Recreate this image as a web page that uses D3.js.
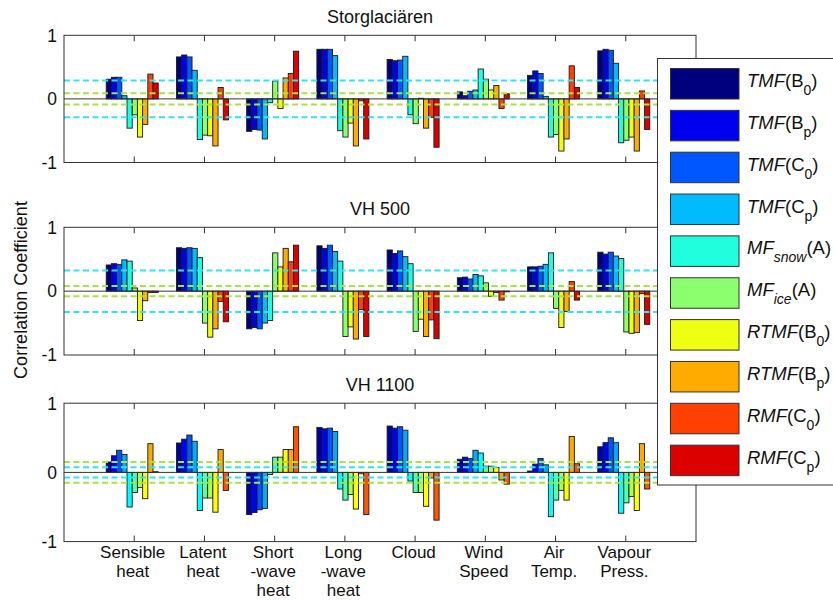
<!DOCTYPE html>
<html>
<head>
<meta charset="utf-8">
<script src="https://cdn.jsdelivr.net/npm/d3@7"></script>
<style>
  body { margin: 0; background: #fff; }
  svg text { font-family: "Liberation Sans", Arial, Helvetica, sans-serif; fill: #111; }
</style>
</head>
<body>
<svg></svg>
<script>
var width = 833;
var height = 601;

// categories along x (label lines as printed under the bottom panel)
var categories = ["Sensible heat", "Latent heat", "Short-wave heat", "Long-wave heat",
                  "Cloud", "Wind Speed", "Air Temp.", "Vapour Press."];
var categoryLines = [["Sensible", "heat"], ["Latent", "heat"], ["Short", "-wave", "heat"],
                     ["Long", "-wave", "heat"], ["Cloud"], ["Wind", "Speed"],
                     ["Air", "Temp."], ["Vapour", "Press."]];

// one row per category, 10 model series per row
var storglaciaren = [
  [0.31, 0.34, 0.34, 0.05, -0.46, -0.25, -0.60, -0.40, 0.39, 0.25],
  [0.66, 0.69, 0.66, 0.45, -0.64, -0.57, -0.58, -0.74, 0.18, -0.33],
  [-0.51, -0.48, -0.49, -0.63, -0.06, 0.28, -0.15, 0.33, 0.40, 0.75],
  [0.78, 0.78, 0.78, 0.68, -0.50, -0.60, -0.38, -0.74, -0.03, -0.63],
  [0.62, 0.60, 0.61, 0.67, -0.25, -0.39, 0.01, -0.46, -0.29, -0.76],
  [0.11, 0.05, 0.12, 0.14, 0.47, 0.31, 0.14, 0.21, -0.15, 0.08],
  [0.37, 0.44, 0.40, 0.04, -0.60, -0.56, -0.82, -0.63, 0.52, 0.18],
  [0.755, 0.78, 0.765, 0.56, -0.69, -0.65, -0.60, -0.82, 0.125, -0.48]
];
var vh500 = [
  [0.41, 0.43, 0.42, 0.49, 0.47, 0.05, -0.46, -0.15, -0.02, -0.02],
  [0.68, 0.67, 0.68, 0.67, 0.525, -0.50, -0.72, -0.59, -0.16, -0.48],
  [-0.59, -0.57, -0.59, -0.50, -0.46, 0.60, 0.38, 0.67, 0.46, 0.72],
  [0.71, 0.67, 0.72, 0.62, 0.47, -0.71, -0.56, -0.75, -0.29, -0.71],
  [0.645, 0.59, 0.63, 0.54, 0.43, -0.63, -0.44, -0.71, -0.45, -0.745],
  [0.21, 0.22, 0.19, 0.26, 0.24, 0.13, -0.08, -0.02, -0.14, -0.01],
  [0.38, 0.38, 0.39, 0.42, 0.60, -0.27, -0.57, -0.32, 0.15, -0.14],
  [0.61, 0.58, 0.61, 0.55, 0.51, -0.64, -0.66, -0.65, -0.04, -0.52]
];
var vh1100 = [
  [0.15, 0.24, 0.32, 0.26, -0.50, -0.29, -0.22, -0.38, 0.415, 0.01],
  [0.425, 0.48, 0.54, 0.45, -0.55, -0.37, -0.37, -0.575, 0.33, -0.26],
  [-0.61, -0.58, -0.54, -0.52, -0.03, 0.22, 0.22, 0.33, 0.33, 0.66],
  [0.65, 0.63, 0.64, 0.59, -0.24, -0.40, -0.32, -0.53, -0.02, -0.61],
  [0.67, 0.64, 0.66, 0.61, -0.125, -0.29, -0.29, -0.49, -0.08, -0.69],
  [0.19, 0.22, 0.20, 0.32, 0.28, 0.09, 0.09, 0.07, -0.11, -0.17],
  [0.02, 0.12, 0.20, 0.11, -0.64, -0.40, -0.26, -0.40, 0.52, 0.125],
  [0.37, 0.43, 0.50, 0.43, -0.59, -0.44, -0.35, -0.55, 0.415, -0.24]
];

var panelTitles = ["Storglaciären", "VH 500", "VH 1100"];
// significance levels (dashed lines), +/- around zero
var cyanLevels = [0.29, 0.325, 0.075];
var greenLevels = [0.09, 0.08, 0.15];
var yTicks = [-1, 0, 1];

// legend labels: italic name, optional italic subscript, argument, argument subscript
var seriesLabels = [
  { name: "TMF", arg: "B", argSub: "0" },
  { name: "TMF", arg: "B", argSub: "p" },
  { name: "TMF", arg: "C", argSub: "0" },
  { name: "TMF", arg: "C", argSub: "p" },
  { name: "MF", nameSub: "snow", arg: "A" },
  { name: "MF", nameSub: "ice", arg: "A" },
  { name: "RTMF", arg: "B", argSub: "0" },
  { name: "RTMF", arg: "B", argSub: "p" },
  { name: "RMF", arg: "C", argSub: "0" },
  { name: "RMF", arg: "C", argSub: "p" }
];

var legendColors = ["#00007f", "#0000ee", "#0057ff", "#00bcff", "#1fffdd",
                    "#8cff6e", "#eeff12", "#ffab00", "#ff4000", "#dd0000"];
// the bottom panel was drawn with plain jet(10)
var jetColors = ["#0000aa", "#0000ff", "#0055ff", "#00aaff", "#00ffff",
                 "#55ffaa", "#aaff55", "#ffff00", "#ffaa00", "#ff5500"];

var panels = [
  { title: panelTitles[0], data: storglaciaren, cyan: cyanLevels[0], green: greenLevels[0], top: 35.3, bottom: 162.5, colors: legendColors },
  { title: panelTitles[1], data: vh500, cyan: cyanLevels[1], green: greenLevels[1], top: 227.3, bottom: 355, colors: legendColors },
  { title: panelTitles[2], data: vh1100, cyan: cyanLevels[2], green: greenLevels[2], top: 403.2, bottom: 541.6, colors: jetColors }
];

var svg = d3.select("svg")
            .attr("width", width)
            .attr("height", height);

var x = d3.scaleLinear()
          .domain([0, categories.length + 1])
          .range([64, 696]);

var inner = d3.scaleBand()
              .domain(d3.range(seriesLabels.length))
              .range([-28, 24]);

panels.forEach(function (p, pi) {
  var y = d3.scaleLinear().domain([-1, 1]).range([p.bottom, p.top]);
  var g = svg.append("g");

  // bars
  var groups = g.selectAll("g.cat")
                .data(p.data)
                .enter()
                .append("g")
                  .attr("transform", (d, i) => "translate(" + x(i + 1) + ",0)");

  groups.selectAll("rect")
        .data(d => d)
        .enter()
        .append("rect")
          .attr("x", (d, j) => inner(j))
          .attr("width", inner.bandwidth())
          .attr("y", d => y(Math.max(0, d)))
          .attr("height", d => Math.abs(y(d) - y(0)))
          .attr("fill", (d, j) => p.colors[j])
          .attr("stroke", "#1a1a1a")
          .attr("stroke-width", 0.9);

  // zero line
  g.append("line")
    .attr("x1", x.range()[0]).attr("x2", x.range()[1])
    .attr("y1", y(0)).attr("y2", y(0))
    .attr("stroke", "#333").attr("stroke-width", 1);

  // dashed significance lines
  [[p.cyan, "#30e4f2"], [p.green, "#a6e443"]].forEach(function (lv) {
    [lv[0], -lv[0]].forEach(function (v) {
      g.append("line")
        .attr("x1", x.range()[0]).attr("x2", x.range()[1])
        .attr("y1", y(v)).attr("y2", y(v))
        .attr("stroke", lv[1]).attr("stroke-width", 2)
        .attr("stroke-dasharray", "6,3.5");
    });
  });

  // box
  g.append("rect")
    .attr("x", x.range()[0]).attr("y", p.top)
    .attr("width", x.range()[1] - x.range()[0]).attr("height", p.bottom - p.top)
    .attr("fill", "none").attr("stroke", "#333").attr("stroke-width", 1);

  // inward ticks top and bottom
  var ticks = d3.range(1, categories.length + 1);
  g.selectAll("line.tt").data(ticks).enter().append("line")
    .attr("x1", d => x(d)).attr("x2", d => x(d))
    .attr("y1", p.top).attr("y2", p.top + 6)
    .attr("stroke", "#333");
  g.selectAll("line.tb").data(ticks).enter().append("line")
    .attr("x1", d => x(d)).attr("x2", d => x(d))
    .attr("y1", p.bottom).attr("y2", p.bottom - 6)
    .attr("stroke", "#333");

  // y tick labels
  g.selectAll("text.yt").data(yTicks).enter().append("text")
    .attr("x", x.range()[0] - 7)
    .attr("y", d => y(d))
    .attr("dy", "0.36em")
    .attr("text-anchor", "end")
    .attr("font-size", 17.5)
    .text(d => d);

  // title
  g.append("text")
    .attr("x", (x.range()[0] + x.range()[1]) / 2)
    .attr("y", p.top - 12)
    .attr("text-anchor", "middle")
    .attr("font-size", 18)
    .text(p.title);

  // category labels under the last panel
  if (pi === panels.length - 1) {
    var lab = g.selectAll("text.cl").data(categoryLines).enter().append("text")
      .attr("text-anchor", "middle")
      .attr("font-size", 17);
    lab.selectAll("tspan").data((d, i) => d.map(s => ({ s: s, i: i })))
      .enter().append("tspan")
        .attr("x", d => x(d.i + 1) - 1.5)
        .attr("y", (d, k) => p.bottom + 16.5 + k * 19)
        .text(d => d.s);
  }
});

// y axis label
svg.append("text")
  .attr("transform", "translate(27,290) rotate(-90)")
  .attr("text-anchor", "middle")
  .attr("font-size", 18)
  .text("Correlation Coefficient");

// legend
var lg = svg.append("g");
lg.append("rect")
  .attr("x", 657.5).attr("y", 58.5)
  .attr("width", 190).attr("height", 426.5)
  .attr("fill", "#fff").attr("stroke", "#333").attr("stroke-width", 1);

var items = lg.selectAll("g.item")
              .data(seriesLabels)
              .enter()
              .append("g")
                .attr("transform", (d, i) => "translate(0," + (68.5 + i * 41.85) + ")");

items.append("rect")
  .attr("x", 670.5).attr("y", 0)
  .attr("width", 68.5).attr("height", 30.5)
  .attr("fill", (d, i) => legendColors[i])
  .attr("stroke", "#333").attr("stroke-width", 1);

items.each(function (d) {
  var t = d3.select(this).append("text")
    .attr("x", 747).attr("y", 18.5)
    .attr("font-size", 18.5);
  t.append("tspan").attr("font-style", "italic").text(d.name);
  if (d.nameSub) {
    t.append("tspan").attr("font-style", "italic").attr("font-size", 14)
      .attr("dy", 8).text(d.nameSub);
    t.append("tspan").attr("dy", -8).text("(" + d.arg + ")");
  } else {
    t.append("tspan").text("(" + d.arg);
    t.append("tspan").attr("font-size", 14).attr("dy", 8).text(d.argSub);
    t.append("tspan").attr("dy", -8).text(")");
  }
});
</script>
</body>
</html>
